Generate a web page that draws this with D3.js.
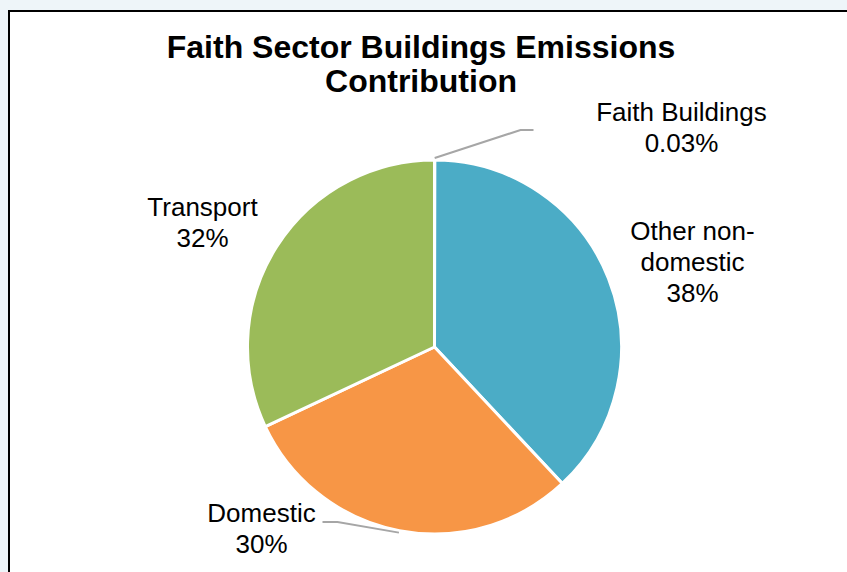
<!DOCTYPE html>
<html>
<head>
<meta charset="utf-8">
<script src="https://cdn.jsdelivr.net/npm/d3@7"></script>
<style>
  body { margin: 0; background: #eef5f9; }
  svg { display: block; font-family: "Liberation Sans", Arial, sans-serif; }
</style>
</head>
<body>
<svg id="chart" width="847" height="572"></svg>
<script>
const categories = ["Faith Buildings", "Other non-domestic", "Domestic", "Transport"];
const values = [0.03, 38, 30, 32];
const valueLabels = ["0.03%", "38%", "30%", "32%"];
const colors = ["#4bacc6", "#4bacc6", "#f79646", "#9bbb59"];

const width = 847, height = 572;
const cx = 434.5, cy = 347, radius = 187;

const svg = d3.select("#chart");

// chart frame
svg.append("rect")
  .attr("x", 9).attr("y", 11)
  .attr("width", width).attr("height", height)
  .attr("fill", "#fff").attr("stroke", "#000").attr("stroke-width", 2);

svg.append("text")
  .attr("text-anchor", "middle")
  .attr("font-size", 32).attr("font-weight", "bold")
  .selectAll("tspan")
  .data(["Faith Sector Buildings Emissions", "Contribution"])
  .join("tspan")
  .attr("x", 421).attr("y", (d, i) => 58 + i * 34)
  .text(d => d);

const data = categories.map((c, i) => ({ label: c, value: values[i], text: valueLabels[i], color: colors[i] }));

const pie = d3.pie().sort(null).value(d => d.value);
const arc = d3.arc().innerRadius(0).outerRadius(radius);
const arcs = pie(data);

const g = svg.append("g").attr("transform", `translate(${cx},${cy})`);

g.selectAll("path.slice")
  .data(arcs)
  .join("path")
  .attr("class", "slice")
  .attr("d", arc)
  .attr("fill", d => d.data.color)
  .attr("stroke", "#fff")
  .attr("stroke-width", 3)
  .attr("stroke-linejoin", "round");

// label layout (offsets from pie centre), leader lines where Excel drew them
const labelLayout = {
  "Faith Buildings": { x: 247, y: -226, leader: [[86, -217], [99, -217]] },
  "Other non-domestic": { x: 258, y: -107 },
  "Domestic": { x: -173, y: 175, leader: [[-97, 175], [-112, 175]] },
  "Transport": { x: -232, y: -131 }
};
const labelLines = {
  "Faith Buildings": ["Faith Buildings"],
  "Other non-domestic": ["Other non-", "domestic"],
  "Domestic": ["Domestic"],
  "Transport": ["Transport"]
};

const mid = d => (d.startAngle + d.endAngle) / 2;
const onArc = (d, r) => [r * Math.sin(mid(d)), -r * Math.cos(mid(d))];

g.selectAll("polyline.leader")
  .data(arcs.filter(d => labelLayout[d.data.label].leader))
  .join("polyline")
  .attr("class", "leader")
  .attr("points", d => [onArc(d, radius + 2)].concat(labelLayout[d.data.label].leader).join(" "))
  .attr("fill", "none")
  .attr("stroke", "#a6a6a6")
  .attr("stroke-width", 2);

const lbl = g.selectAll("text.lbl")
  .data(arcs)
  .join("text")
  .attr("class", "lbl")
  .attr("text-anchor", "middle")
  .attr("font-size", 26)
  .attr("fill", "#000");

lbl.selectAll("tspan")
  .data(d => labelLines[d.data.label].concat([d.data.text]).map(t => ({ t, d })))
  .join("tspan")
  .attr("x", o => labelLayout[o.d.data.label].x)
  .attr("y", (o, i) => labelLayout[o.d.data.label].y + i * 31)
  .text(o => o.t);
</script>
</body>
</html>
